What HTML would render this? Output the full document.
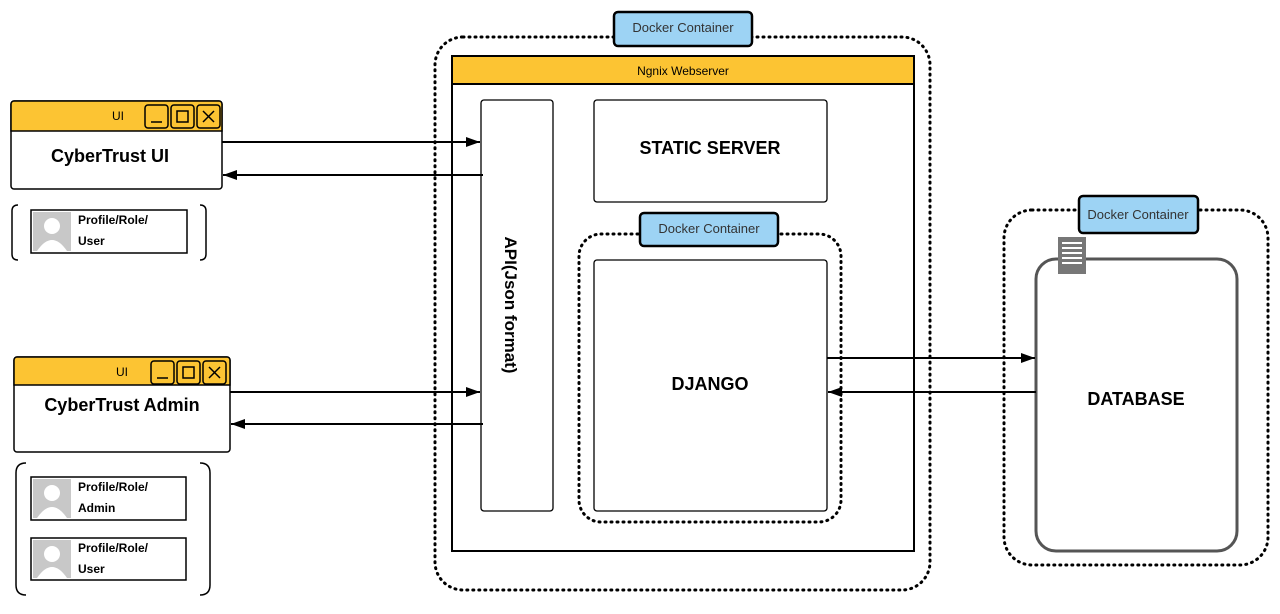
<!DOCTYPE html>
<html><head><style>body{margin:0;background:#fff}svg{display:block}text{font-family:"Liberation Sans",Arial,sans-serif}</style></head><body>
<svg width="1280" height="614" viewBox="0 0 1280 614" xmlns="http://www.w3.org/2000/svg">
<defs><marker id="a" markerWidth="14" markerHeight="10" refX="14" refY="5" orient="auto" markerUnits="userSpaceOnUse"><path d="M0,0 L14,5 L0,10 z" fill="#000"/></marker></defs>
<g fill="none" stroke="#000" stroke-width="3" stroke-dasharray="1 5" stroke-linecap="round">
<rect x="435" y="37" width="495" height="553" rx="28"/>
<rect x="1004" y="210" width="264" height="355" rx="28"/>
</g>
<rect x="452" y="56" width="462" height="495" fill="#fff" stroke="#000" stroke-width="2"/>
<rect x="452" y="56" width="462" height="28" fill="#fcc433" stroke="#000" stroke-width="2"/>
<text x="683" y="75" font-size="12" text-anchor="middle">Ngnix Webserver</text>
<rect x="614" y="12" width="138" height="34" rx="4" fill="#9dd3f4" stroke="#000" stroke-width="2.5"/>
<text x="683" y="32" font-size="13" text-anchor="middle" fill="#333">Docker Container</text>
<rect x="481" y="100" width="72" height="411" rx="3" fill="#fff" stroke="#000" stroke-width="1.3"/>
<text transform="translate(505,305) rotate(90)" font-size="17" font-weight="bold" text-anchor="middle">API(Json format)</text>
<rect x="594" y="100" width="233" height="102" rx="3" fill="#fff" stroke="#000" stroke-width="1.3"/>
<text x="710" y="154" font-size="18" font-weight="bold" text-anchor="middle">STATIC SERVER</text>
<rect x="579" y="234" width="262" height="288" rx="22" fill="none" stroke="#000" stroke-width="3" stroke-dasharray="1 5" stroke-linecap="round"/>
<rect x="640" y="213" width="138" height="33" rx="4" fill="#9dd3f4" stroke="#000" stroke-width="2.5"/>
<text x="709" y="233" font-size="13" text-anchor="middle" fill="#333">Docker Container</text>
<rect x="594" y="260" width="233" height="251" rx="3" fill="#fff" stroke="#000" stroke-width="1.3"/>
<text x="710" y="390" font-size="18" font-weight="bold" text-anchor="middle">DJANGO</text>
<rect x="1079" y="196" width="119" height="37" rx="4" fill="#9dd3f4" stroke="#000" stroke-width="2.5"/>
<text x="1138" y="219" font-size="13" text-anchor="middle" fill="#333">Docker Container</text>
<rect x="1036" y="259" width="201" height="292" rx="20" fill="#fff" stroke="#555" stroke-width="3"/>
<rect x="1058" y="237" width="28" height="37" fill="#777"/>
<g fill="#fff"><rect x="1062" y="242" width="20" height="2"/><rect x="1062" y="247" width="20" height="2"/><rect x="1062" y="252" width="20" height="2"/><rect x="1062" y="257" width="20" height="2"/><rect x="1062" y="262" width="20" height="2"/></g>
<text x="1136" y="405" font-size="18" font-weight="bold" text-anchor="middle">DATABASE</text>
<!-- UI 1 -->
<rect x="11" y="101" width="211" height="88" rx="3" fill="#fff" stroke="#000" stroke-width="1.5"/>
<path d="M11,131 V104 a3,3 0 0 1 3,-3 H219 a3,3 0 0 1 3,3 V131 z" fill="#fcc433" stroke="#000" stroke-width="1.5"/>
<text x="118" y="120" font-size="12" text-anchor="middle">UI</text>
<g fill="none" stroke="#000" stroke-width="1.5"><rect x="145" y="105" width="23" height="23" rx="3"/><rect x="171" y="105" width="23" height="23" rx="3"/><rect x="197" y="105" width="23" height="23" rx="3"/><path d="M151,122h11M177,111h11v11h-11zM203,111l11,11M214,111l-11,11"/></g>
<text x="110" y="162" font-size="18" font-weight="bold" text-anchor="middle">CyberTrust UI</text>
<g fill="none" stroke="#000" stroke-width="1.5"><path d="M18,205 q-6,0 -6,6 v43 q0,6 6,6M200,205 q6,0 6,6 v43 q0,6 -6,6"/></g>
<rect x="31" y="210" width="156" height="43" fill="#fff" stroke="#000" stroke-width="1.5"/>
<rect x="33" y="212" width="38" height="39" fill="#c8c8c8"/><circle cx="52" cy="226" r="8" fill="#fff"/><path d="M37,251 q15,-22 30,0z" fill="#fff"/>
<text x="78" y="224" font-size="12" font-weight="bold">Profile/Role/</text><text x="78" y="245" font-size="12" font-weight="bold">User</text>
<!-- UI 2 -->
<rect x="14" y="357" width="216" height="95" rx="3" fill="#fff" stroke="#000" stroke-width="1.5"/>
<path d="M14,385 V360 a3,3 0 0 1 3,-3 H227 a3,3 0 0 1 3,3 V385 z" fill="#fcc433" stroke="#000" stroke-width="1.5"/>
<text x="122" y="376" font-size="12" text-anchor="middle">UI</text>
<g fill="none" stroke="#000" stroke-width="1.5"><rect x="151" y="361" width="23" height="23" rx="3"/><rect x="177" y="361" width="23" height="23" rx="3"/><rect x="203" y="361" width="23" height="23" rx="3"/><path d="M157,378h11M183,367h11v11h-11zM209,367l11,11M220,367l-11,11"/></g>
<text x="122" y="411" font-size="18" font-weight="bold" text-anchor="middle">CyberTrust Admin</text>
<g fill="none" stroke="#000" stroke-width="1.5"><path d="M26,463 q-10,0 -10,10 v112 q0,10 10,10M200,463 q10,0 10,10 v112 q0,10 -10,10"/></g>
<rect x="31" y="477" width="155" height="43" fill="#fff" stroke="#000" stroke-width="1.5"/>
<rect x="33" y="479" width="38" height="39" fill="#c8c8c8"/><circle cx="52" cy="493" r="8" fill="#fff"/><path d="M37,518 q15,-22 30,0z" fill="#fff"/>
<text x="78" y="491" font-size="12" font-weight="bold">Profile/Role/</text><text x="78" y="512" font-size="12" font-weight="bold">Admin</text>
<rect x="31" y="538" width="155" height="42" fill="#fff" stroke="#000" stroke-width="1.5"/>
<rect x="33" y="540" width="38" height="38" fill="#c8c8c8"/><circle cx="52" cy="554" r="8" fill="#fff"/><path d="M37,578 q15,-22 30,0z" fill="#fff"/>
<text x="78" y="552" font-size="12" font-weight="bold">Profile/Role/</text><text x="78" y="573" font-size="12" font-weight="bold">User</text>
<!-- arrows -->
<g stroke="#000" stroke-width="2" marker-end="url(#a)">
<line x1="222" y1="142" x2="480" y2="142"/>
<line x1="483" y1="175" x2="223" y2="175"/>
<line x1="230" y1="392" x2="480" y2="392"/>
<line x1="483" y1="424" x2="231" y2="424"/>
<line x1="827" y1="358" x2="1035" y2="358"/>
<line x1="1036" y1="392" x2="828" y2="392"/>
</g>
</svg>
</body></html>
